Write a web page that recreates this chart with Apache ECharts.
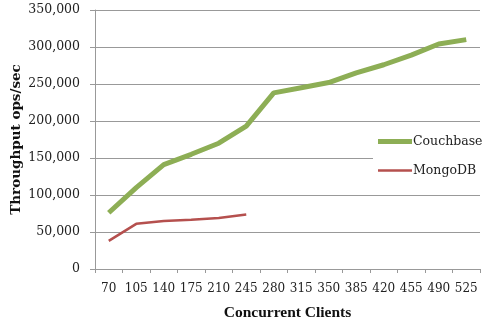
<!DOCTYPE html>
<html><head><meta charset="utf-8">
<script src="https://cdn.jsdelivr.net/npm/echarts@6/dist/echarts.min.js"></script>
<style>html,body{margin:0;padding:0;background:#fff}#c{width:489px;height:323px}</style>
</head><body><div id="c"></div>
<script>
const categories = ['70','105','140','175','210','245','280','315','350','385','420','455','490','525'];
const couchbase = [76000,110000,141000,155000,170000,193000,238000,245000,252000,265000,276000,289000,304000,310000];
const mongodb = [38000,61000,65000,66500,69000,73500];
const yTicks = {min:0, max:350000, interval:50000};

const chart = echarts.init(document.getElementById('c'));
chart.setOption({
  animation:false,
  backgroundColor:'#fff',
  grid:{left:95, right:9, top:10, bottom:54, containLabel:false, outerBoundsMode:'none'},
  legend:{
    orient:'vertical', left:373, top:130, itemGap:16,
    backgroundColor:'#fff', padding:[5,0,5,5],
    itemWidth:34, itemHeight:14,
    textStyle:{fontFamily:'DejaVu Serif', fontSize:12.5, color:'#222', padding:[0,0,0,-4]},
    data:[
      {name:'Couchbase', icon:'path://M0,0H34V5H0Z', itemStyle:{color:'#8DAE55'}},
      {name:'MongoDB', icon:'path://M0,0H34V2.5H0Z', itemStyle:{color:'#B5504E'}}
    ]
  },
  xAxis:{
    type:'category', data:categories, boundaryGap:true,
    name:'Concurrent Clients', nameLocation:'middle', nameGap:36, nameMoveOverlap:false,
    nameTextStyle:{fontFamily:'Liberation Serif', fontWeight:'bold', fontSize:15.5, color:'#111'},
    axisLine:{lineStyle:{color:'#999'}},
    axisTick:{show:true, length:4, lineStyle:{color:'#999'}},
    axisLabel:{fontFamily:'DejaVu Serif', fontSize:12, color:'#222', margin:14, interval:0}
  },
  yAxis:{
    type:'value', min:yTicks.min, max:yTicks.max, interval:yTicks.interval,
    name:'Throughput ops/sec', nameLocation:'middle', nameGap:72, nameMoveOverlap:false,
    nameTextStyle:{fontFamily:'DejaVu Serif', fontWeight:'bold', fontSize:13.5, color:'#111'},
    axisLine:{show:true, lineStyle:{color:'#999'}},
    axisTick:{show:true, length:5, lineStyle:{color:'#999'}},
    splitLine:{lineStyle:{color:'#999'}},
    axisLabel:{fontFamily:'DejaVu Serif', fontSize:12.5, color:'#222', margin:15,
      formatter:v=>v.toLocaleString('en-US')}
  },
  series:[
    {name:'Couchbase', type:'line', data:couchbase, symbol:'none',
     lineStyle:{color:'#8DAE55', width:5}, itemStyle:{color:'#8DAE55'}},
    {name:'MongoDB', type:'line', data:mongodb, symbol:'none',
     lineStyle:{color:'#B5504E', width:2.5}, itemStyle:{color:'#B5504E'}}
  ]
});
</script></body></html>
